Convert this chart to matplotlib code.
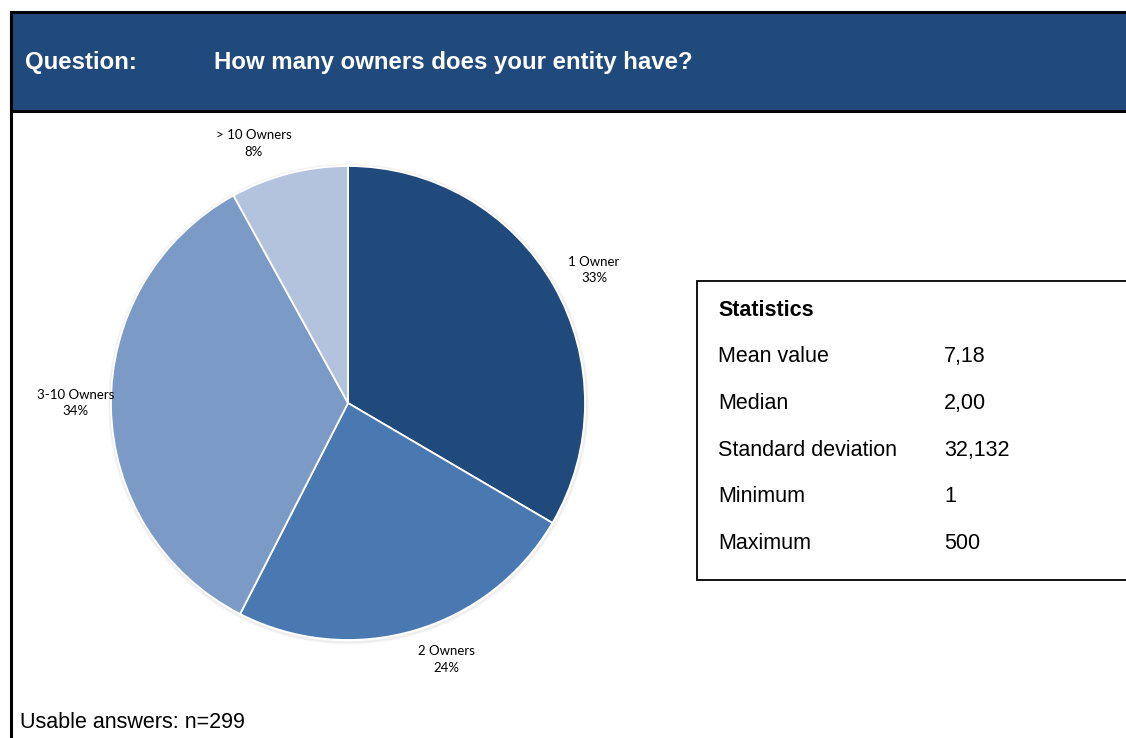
import numpy as np
import matplotlib.pyplot as plt
from matplotlib.patches import Rectangle, Circle

# survey answers (n=299)
categories = ["1 Owner", "2 Owners", "3-10 Owners", "> 10 Owners"]
counts = [100, 72, 103, 24]
colors = ["#214a7c", "#4a78b0", "#7b9ac6", "#b3c3de"]

stat_names = ["Mean value", "Median", "Standard deviation", "Minimum", "Maximum"]
stat_values = ["7,18", "2,00", "32,132", "1", "500"]

question = "How many owners does your entity have?"
n_answers = 299

W, H = 1126, 738
fig = plt.figure(figsize=(W / 100, H / 100), dpi=100)
fig.patch.set_facecolor("white")


def px(x, y, w, h):
    # pixel box (top-left origin) -> figure fraction
    return [x / W, 1 - (y + h) / H, w / W, h / H]


# frame and header band
bg = fig.add_axes([0, 0, 1, 1])
bg.set_xlim(0, W)
bg.set_ylim(H, 0)
bg.axis("off")
bg.add_patch(Rectangle((11, 12), W, 99, facecolor="#214a7c",
                       edgecolor="black", linewidth=2.2))
bg.plot([11, 11], [12, H], color="black", lw=2.2)
bg.text(25, 62, "Question:", color="white", fontsize=17.3, fontweight="bold",
        family="Liberation Sans", va="center")
bg.text(214, 62, question, color="white", fontsize=17.3, fontweight="bold",
        family="Liberation Sans", va="center")
bg.text(20, 722, f"Usable answers: n={n_answers}", fontsize=15.5,
        family="Liberation Sans", va="center")

# statistics box
bg.add_patch(Rectangle((697, 281), 430, 299, facecolor="white",
                       edgecolor="black", linewidth=1.3))
bg.text(718, 316, "Statistics", fontsize=15.5, fontweight="bold",
        family="Liberation Sans", va="baseline")
for i, (name, val) in enumerate(zip(stat_names, stat_values)):
    y = 362 + i * 46.8
    bg.text(718, y, name, fontsize=15.5, family="Liberation Sans", va="baseline")
    bg.text(944, y, val, fontsize=15.5, family="Liberation Sans", va="baseline")

# pie
R = 237
ax = fig.add_axes(px(348 - R, 403 - R, 2 * R, 2 * R))

total = sum(counts)
labels = [f"{c}\n{round(v / total * 100)}%" for c, v in zip(categories, counts)]
wedges, texts = ax.pie(counts, colors=colors, startangle=90, counterclock=False,
                       labels=labels, labeldistance=1.165,
                       wedgeprops=dict(edgecolor="white", linewidth=1.3),
                       textprops=dict(fontsize=9.5, family="Lato",
                                      linespacing=1.45))

# nudge labels off the wedge middle (angle shift in deg, radial distance)
nudges = [(-1.4, 1.18), (4.8, 1.16), (-0.9, 1.15), (5.5, 1.165)]
for w, t, (da, dist) in zip(wedges, texts, nudges):
    mid = np.deg2rad((w.theta1 + w.theta2) / 2 + da)
    t.set_position((dist * np.cos(mid), dist * np.sin(mid)))
    t.set_ha("center")
    t.set_va("center")
    t.set_clip_on(False)

# pie() sets its own limits, so fix them afterwards
ax.set_xlim(-1, 1)
ax.set_ylim(-1, 1)
ax.set_aspect("equal")
ax.axis("off")

# soft shadow around the rim
for k, a in enumerate([0.10, 0.07, 0.04]):
    ax.add_patch(Circle((0.002, -0.004), 1.0 + 0.004 * (k + 1),
                        facecolor="none", edgecolor="gray", lw=1.2, alpha=a,
                        zorder=0, clip_on=False))

fig.savefig("out.png", dpi=100)
